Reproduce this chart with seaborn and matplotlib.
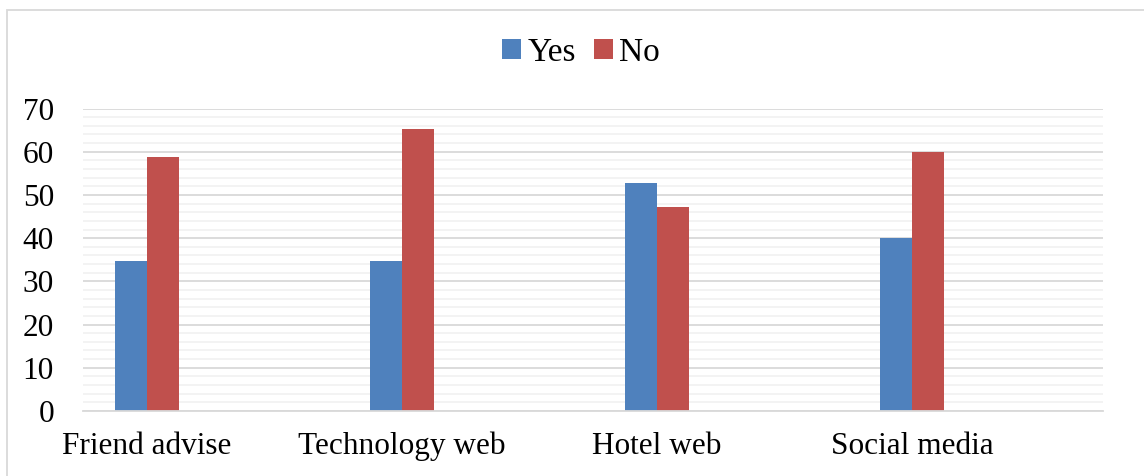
import matplotlib
matplotlib.use("Agg")
import matplotlib.pyplot as plt
from matplotlib.ticker import MultipleLocator
from matplotlib.patches import Rectangle
import pandas as pd
import seaborn as sns

categories = ["Friend advise", "Technology web", "Hotel web", "Social media"]
yes_values = [34.7, 34.7, 52.7, 40.0]
no_values = [58.7, 65.2, 47.3, 60.0]
series_names = ["Yes", "No"]
y_ticks = [0, 10, 20, 30, 40, 50, 60, 70]

df = pd.DataFrame({
    "category": categories * 2,
    "answer": [series_names[0]] * len(categories) + [series_names[1]] * len(categories),
    "value": yes_values + no_values,
})

sns.set_theme(style="white")
plt.rcParams["font.family"] = ["Liberation Serif", "DejaVu Serif"]
plt.rcParams["text.color"] = "black"

fig = plt.figure(figsize=(11.44, 4.76), dpi=100)
ax = fig.add_axes([0.0726, 0.1366, 0.8916, 0.6354])

sns.barplot(data=df, x="category", y="value", hue="answer",
            order=categories, hue_order=series_names,
            palette=["#4f81bd", "#c0504d"], width=0.25,
            saturation=1, linewidth=0, ax=ax, legend=True)

ax.set_xlim(-0.251, len(categories) - 0.251)
ax.set_ylim(0, 70)
ax.set_yticks(y_ticks)
ax.yaxis.set_minor_locator(MultipleLocator(2))
ax.grid(True, which="minor", axis="y", color="#f2f2f2", linewidth=1.3, zorder=0)
ax.grid(True, which="major", axis="y", color="#d9d9d9", linewidth=1.3, zorder=0)
ax.set_axisbelow(True)

for side in ["top", "right", "left"]:
    ax.spines[side].set_visible(False)
ax.spines["bottom"].set_color("#d9d9d9")
ax.spines["bottom"].set_linewidth(1.3)

ax.tick_params(axis="both", which="both", length=0, labelsize=22.5, colors="black")
ax.tick_params(axis="y", pad=21)
ax.tick_params(axis="x", pad=15)
ax.set_xlabel("")
ax.set_ylabel("")

handles, labels = ax.get_legend_handles_labels()
ax.legend_.remove()
fig.legend(handles, labels, loc="center", bbox_to_anchor=(0.508, 0.89),
           ncol=2, frameon=False, fontsize=24, handlelength=0.55,
           handleheight=0.55, handletextpad=0.2, columnspacing=0.55,
           labelcolor="black")

# chart area frame
fig.patches.append(Rectangle((7 / 1144, -0.01), 1.0, 1 - 10 / 476 + 0.01,
                             transform=fig.transFigure, fill=False,
                             edgecolor="#d9d9d9", linewidth=1.3))

fig.savefig("out.png", dpi=100)
